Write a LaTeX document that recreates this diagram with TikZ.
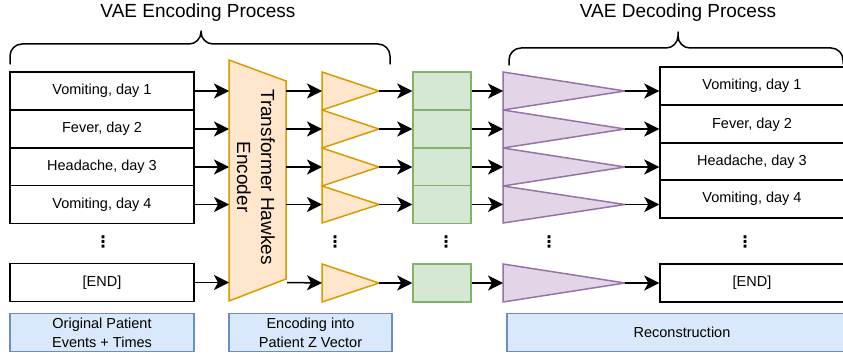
\documentclass[tikz,border=0pt]{standalone}
\usepackage{fontspec}
\setmainfont{Liberation Sans}
\newfontfamily\dejavu{DejaVu Sans}
\usetikzlibrary{arrows.meta}
\definecolor{encfill}{HTML}{FFE6CC}
\definecolor{encdraw}{HTML}{D79B00}
\definecolor{grfill}{HTML}{D5E8D4}
\definecolor{grdraw}{HTML}{82B366}
\definecolor{pufill}{HTML}{E1D5E7}
\definecolor{pudraw}{HTML}{9673A6}
\definecolor{blfill}{HTML}{DAE8FC}
\definecolor{bldraw}{HTML}{6C8EBF}
\tikzset{
  evbox/.style={draw=black, line width=1.5pt, fill=white, minimum width=184pt, minimum height=38pt, inner sep=0pt, font=\fontsize{14.5}{17}\selectfont},
  lblbox/.style={draw=bldraw, line width=1.5pt, fill=blfill, minimum height=38pt, inner sep=0pt, align=center, font=\fontsize{14.5}{19}\selectfont},
  grbox/.style={draw=grdraw, line width=1.5pt, fill=grfill, minimum width=58pt, minimum height=38pt, inner sep=0pt},
  enctri/.style={draw=encdraw, line width=1.5pt, fill=encfill, line join=miter},
  putri/.style={draw=pudraw, line width=1.5pt, fill=pufill, line join=miter},
  conn/.style={line width=1.5pt, -{Stealth[length=15pt,width=15pt,inset=4pt]}},
  brace/.style={line width=1.5pt, line cap=round, line join=round},
  vdots/.style={font=\dejavu\bfseries\fontsize{16}{16}\selectfont, inner sep=0pt},
  title/.style={font=\fontsize{19}{22}\selectfont}
}
\begin{document}
\begin{tikzpicture}[x=1pt,y=-1pt]
\useasboundingbox (0,0) rectangle (843,353);

% titles and braces
\node[title] (enctitle) at (198,13) {VAE Encoding Process};
\node[title] (dectitle) at (678,13) {VAE Decoding Process};
\draw[brace] (10,64) -- (10,56) arc[start angle=180,end angle=270,radius=12] -- (189,44)
  arc[start angle=90,end angle=0,radius=12] -- (201,31) -- (201,32)
  arc[start angle=180,end angle=90,radius=12] -- (378,44)
  arc[start angle=270,end angle=360,radius=12] -- (390,64);
\draw[brace] (509,65) -- (509,60) arc[start angle=180,end angle=270,radius=12] -- (666,48)
  arc[start angle=90,end angle=0,radius=12] -- (678,32) -- (678,36)
  arc[start angle=180,end angle=90,radius=12] -- (831,48)
  arc[start angle=270,end angle=360,radius=12] -- (843,64);

% left event boxes
\node[evbox] (l1) at (102,91) {Vomiting, day 1};
\node[evbox] (l2) at (102,129) {Fever, day 2};
\node[evbox] (l3) at (102,167) {Headache, day 3};
\node[evbox] (l4) at (102,204.5) {Vomiting, day 4};
\node[evbox] (l5) at (102,282.5) {[END]};
\node[vdots] (ld) at (103,242) {⋮};

% encoder
\draw[enctri] (229,60) -- (286,81) -- (286,279) -- (229,301) -- cycle;
\coordinate (encL1) at (229,91);
\coordinate (encL2) at (229,129);
\coordinate (encL3) at (229,167);
\coordinate (encL4) at (229,204.5);
\coordinate (encL5) at (229,282.5);
\coordinate (encR1) at (286,91);
\coordinate (encR2) at (286,129);
\coordinate (encR3) at (286,167);
\coordinate (encR4) at (286,204.5);
\coordinate (encR5) at (287,282.5);
\node[rotate=-90, align=center, font=\fontsize{19}{24}\selectfont] (enctext) at (256,177) {Transformer Hawkes\\Encoder};

% orange triangles
\foreach \i/\t/\b in {1/72/110,2/110/148,3/148/186,4/186/223,5/264/302}{
  \draw[enctri] (322,\t) -- (379,{(\t+\b)/2}) -- (322,\b) -- cycle;
  \coordinate (oL\i) at (322,{(\t+\b)/2});
  \coordinate (oR\i) at (379,{(\t+\b)/2});
}
\node[vdots] (od) at (335,242) {⋮};

% green boxes
\node[grbox] (g1) at (442,91) {};
\node[grbox] (g2) at (442,129) {};
\node[grbox] (g3) at (442,167) {};
\node[grbox] (g4) at (442,204.5) {};
\node[grbox] (g5) at (442,283) {};
\node[vdots] (gd) at (446,242) {⋮};

% purple triangles
\foreach \i/\t/\b in {1/72/110,2/110/148,3/148/186,4/186/223,5/264/302}{
  \draw[putri] (503,\t) -- (625,{(\t+\b)/2}) -- (503,\b) -- cycle;
  \coordinate (pL\i) at (503,{(\t+\b)/2});
  \coordinate (pR\i) at (625,{(\t+\b)/2});
}
\node[vdots] (pd) at (549,242) {⋮};

% right boxes
\node[evbox] (r1) at (752,86) {Vomiting, day 1};
\node[evbox] (r2) at (752,124.5) {Fever, day 2};
\node[evbox] (r3) at (752,162) {Headache, day 3};
\node[evbox] (r4) at (752,199) {Vomiting, day 4};
\node[evbox] (r5) at (752,283) {[END]};
\node[vdots] (rd) at (745,242) {⋮};

% connectors
\foreach \i in {1,...,5}{
  \draw[conn] (l\i.east) -- (encL\i);
  \draw[conn] (encR\i) -- (oL\i);
  \draw[conn] (oR\i) -- (g\i.west);
  \draw[conn] (g\i.east) -- (pL\i);
  \draw[conn] (pR\i) -- (pR\i -| r\i.west);
}

% bottom labels
\node[lblbox, minimum width=184pt] (lb1) at (102,332.5) {Original Patient\\Events + Times};
\node[lblbox, minimum width=163pt] (lb2) at (310.5,332.5) {Encoding into\\Patient Z Vector};
\node[lblbox, minimum width=350pt] (lb3) at (682,332.5) {Reconstruction};
\end{tikzpicture}
\end{document}
